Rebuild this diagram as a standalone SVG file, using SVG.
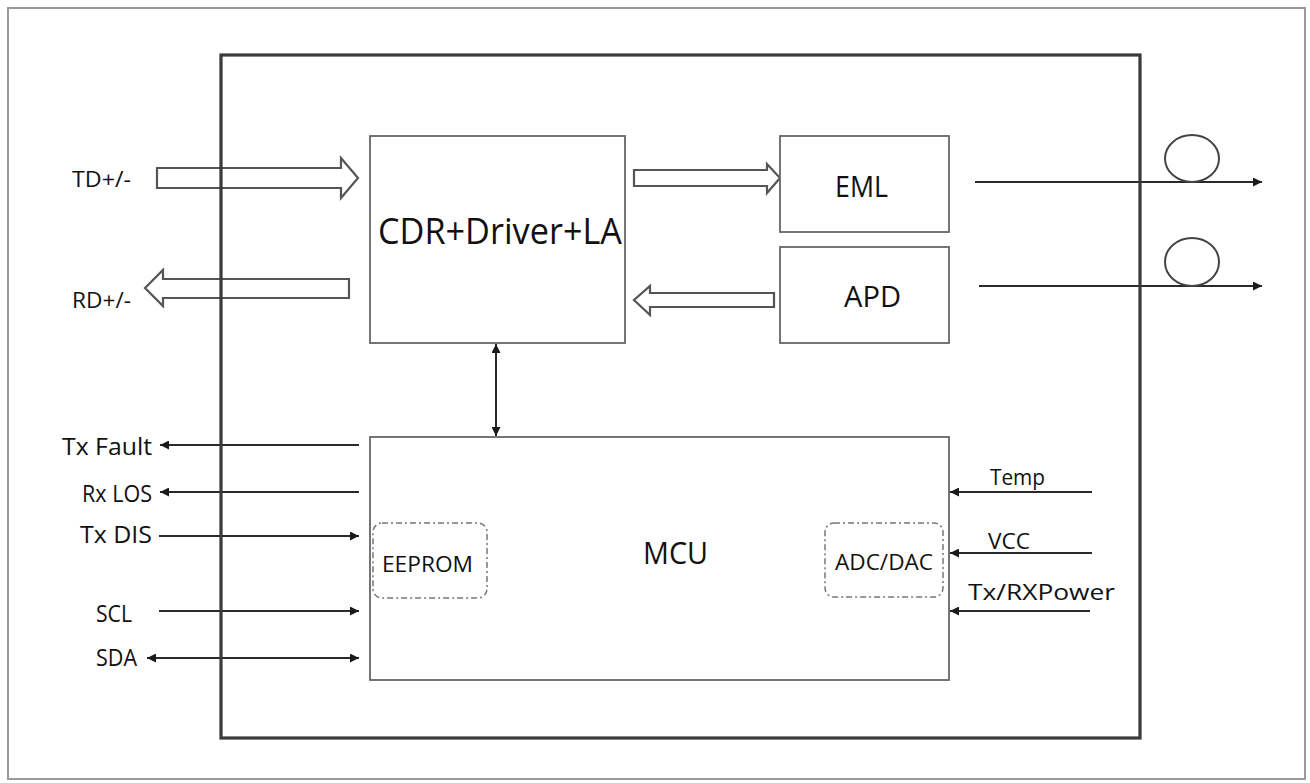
<svg xmlns="http://www.w3.org/2000/svg" width="1310" height="783" viewBox="0 0 1310 783">
<style>
text{font-family:"Open Sans","Liberation Sans",Arial,sans-serif;fill:#111}
.box{fill:#fff;stroke:#666;stroke-width:1.8}
.dash{fill:none;stroke:#777;stroke-width:1.5;stroke-dasharray:6 3 2 3}
.blk{fill:none;stroke:#555;stroke-width:2.2}
.ln{fill:none;stroke:#2a2a2a;stroke-width:2}
</style>
<defs>
<marker id="ah" viewBox="0 0 10 10" refX="10" refY="5" markerWidth="10" markerHeight="9" markerUnits="userSpaceOnUse" orient="auto-start-reverse">
<path d="M0,0 L10,5 L0,10 z" fill="#1a1a1a"/>
</marker>
</defs>
<rect x="0" y="0" width="1310" height="783" fill="#fff"/>
<rect x="8" y="8" width="1297" height="771" fill="none" stroke="#9a9a9a" stroke-width="2"/>

<g id="connectors">
<polygon class="blk" points="157,168 341,168 341,158 358,178 341,198 341,188 157,188"/>
<polygon class="blk" points="349,279 163,279 163,270 145,288 163,306 163,298 349,298"/>
<polygon class="blk" points="634,170 767,170 767,164 780,178 767,193 767,186 634,186"/>
<polygon class="blk" points="774,293 650,293 650,286 634,300 650,315 650,307 774,307"/>
<line class="ln" x1="975" y1="182" x2="1262" y2="182" marker-end="url(#ah)"/>
<line class="ln" x1="979" y1="286" x2="1262" y2="286" marker-end="url(#ah)"/>
<line class="ln" x1="496" y1="344" x2="496" y2="436" marker-start="url(#ah)" marker-end="url(#ah)"/>
<line class="ln" x1="359" y1="445" x2="160" y2="445" marker-end="url(#ah)"/>
<line class="ln" x1="359" y1="492" x2="160" y2="492" marker-end="url(#ah)"/>
<line class="ln" x1="159" y1="536" x2="359" y2="536" marker-end="url(#ah)"/>
<line class="ln" x1="159" y1="611" x2="359" y2="611" marker-end="url(#ah)"/>
<line class="ln" x1="147" y1="658" x2="359" y2="658" marker-start="url(#ah)" marker-end="url(#ah)"/>
<line class="ln" x1="1092" y1="492" x2="950" y2="492" marker-end="url(#ah)"/>
<line class="ln" x1="1092" y1="553" x2="950" y2="553" marker-end="url(#ah)"/>
<line class="ln" x1="1090" y1="611" x2="950" y2="611" marker-end="url(#ah)"/>
</g>

<g id="module">
<rect x="221" y="55" width="919" height="683" fill="none" stroke="#3a3a3a" stroke-width="3.2"/>
</g>

<g id="fiber1"><ellipse cx="1192" cy="158.5" rx="27" ry="23.5" fill="none" stroke="#444" stroke-width="2"/></g>
<g id="fiber2"><ellipse cx="1192" cy="262" rx="27" ry="24" fill="none" stroke="#444" stroke-width="2"/></g>

<g id="cdr">
<rect class="box" x="370" y="136" width="255" height="207"/>
<text x="378" y="244" font-size="37" textLength="244" lengthAdjust="spacingAndGlyphs">CDR+Driver+LA</text>
</g>
<g id="eml">
<rect class="box" x="780" y="136" width="169" height="96"/>
<text x="835" y="197" font-size="29" textLength="53" lengthAdjust="spacingAndGlyphs">EML</text>
</g>
<g id="apd">
<rect class="box" x="780" y="247" width="169" height="96"/>
<text x="844" y="307" font-size="29" textLength="57" lengthAdjust="spacingAndGlyphs">APD</text>
</g>
<g id="mcu">
<rect class="box" x="370" y="437" width="579" height="243"/>
<text x="643" y="564" font-size="31" textLength="65" lengthAdjust="spacingAndGlyphs">MCU</text>
</g>
<g id="eeprom">
<rect class="dash" x="373" y="523" width="114" height="75" rx="9"/>
<text x="382" y="572" font-size="22" textLength="91" lengthAdjust="spacingAndGlyphs">EEPROM</text>
</g>
<g id="adcdac">
<rect class="dash" x="825" y="523" width="118" height="74" rx="9"/>
<text x="835" y="570" font-size="21" textLength="98" lengthAdjust="spacingAndGlyphs">ADC/DAC</text>
</g>

<g id="labels">
<text x="72" y="187" font-size="22" textLength="59" lengthAdjust="spacingAndGlyphs">TD+/-</text>
<text x="72" y="308" font-size="22" textLength="59" lengthAdjust="spacingAndGlyphs">RD+/-</text>
<text x="62" y="455" font-size="24" textLength="90" lengthAdjust="spacingAndGlyphs">Tx Fault</text>
<text x="82" y="502" font-size="23" textLength="70" lengthAdjust="spacingAndGlyphs">Rx LOS</text>
<text x="80" y="543" font-size="23" textLength="72" lengthAdjust="spacingAndGlyphs">Tx DIS</text>
<text x="96" y="622" font-size="23" textLength="36" lengthAdjust="spacingAndGlyphs">SCL</text>
<text x="96" y="666" font-size="23" textLength="41" lengthAdjust="spacingAndGlyphs">SDA</text>
<text x="990" y="485" font-size="22" textLength="55" lengthAdjust="spacingAndGlyphs">Temp</text>
<text x="988" y="549" font-size="21" textLength="42" lengthAdjust="spacingAndGlyphs">VCC</text>
<text x="968" y="600" font-size="22" textLength="147" lengthAdjust="spacingAndGlyphs">Tx/RXPower</text>
</g>
</svg>
